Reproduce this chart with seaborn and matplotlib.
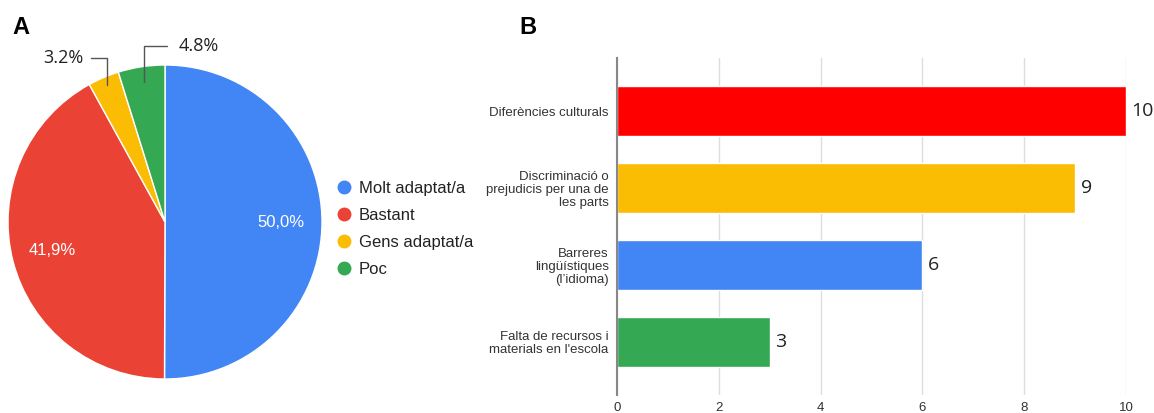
import matplotlib
matplotlib.use("Agg")
import matplotlib.pyplot as plt
from matplotlib.lines import Line2D
import numpy as np
import pandas as pd
import seaborn as sns

# panel A - how adapted
adapt_labels = ['Molt adaptat/a', 'Bastant', 'Gens adaptat/a', 'Poc']
adapt_pct = [50.0, 41.9, 3.2, 4.8]
adapt_colors = ['#4285F4', '#EA4335', '#FBBC04', '#34A853']

# panel B - barriers
barrier_labels = ['Diferències culturals',
                  'Discriminació o\nprejudicis per una de\nles parts',
                  'Barreres\nlingüístiques\n(l’idioma)',
                  "Falta de recursos i\nmaterials en l'escola"]
barrier_counts = [10, 9, 6, 3]
barrier_colors = ['#FF0000', '#FBBC04', '#4285F4', '#34A853']
x_ticks = [0, 2, 4, 6, 8, 10]

sns.set_theme(style='white')
plt.rcParams['font.family'] = ['Liberation Sans', 'DejaVu Sans']

W, H = 1154, 413
fig = plt.figure(figsize=(W / 100, H / 100), dpi=100)

"""
    Pie
"""
ax_pie = fig.add_axes([8 / W, 34 / H, 314 / W, 314 / H])
wedges, _ = ax_pie.pie(adapt_pct, colors=adapt_colors, startangle=90, counterclock=False,
                       wedgeprops=dict(linewidth=1, edgecolor='white'))
ax_pie.set_xlim(-1, 1)
ax_pie.set_ylim(-1, 1)

# small slices get a leader line: (radius of anchor, elbow y, horizontal run)
leaders = {2: (0.95, 1.045, -0.10), 3: (0.90, 1.12, 0.15)}
for i, (w, p) in enumerate(zip(wedges, adapt_pct)):
    ang = np.deg2rad((w.theta1 + w.theta2) / 2)
    if i in leaders:
        r, ey, run = leaders[i]
        ax0, ay0 = r * np.cos(ang), r * np.sin(ang)
        ax_pie.plot([ax0, ax0, ax0 + run], [ay0, ey, ey], color='#555555', lw=1, clip_on=False)
        ha = 'left' if run > 0 else 'right'
        tx = ax0 + run + (0.07 if run > 0 else -0.05)
        ax_pie.text(tx, ey, f'{p:.1f}%', ha=ha, va='center', fontsize=13,
                    family=['Open Sans', 'DejaVu Sans'], color='#222222')
    else:
        ax_pie.text(0.74 * np.cos(ang), 0.74 * np.sin(ang), f'{p:.1f}%'.replace('.', ','),
                    ha='center', va='center', fontsize=12, color='white')

handles = [Line2D([0], [0], marker='o', linestyle='', markersize=9, color=c) for c in adapt_colors]
leg = fig.legend(handles, adapt_labels, loc='center left', bbox_to_anchor=(338 / W, 1 - 229 / H),
                 frameon=False, fontsize=12, handlelength=0.7, handletextpad=0.55,
                 labelspacing=0.72, borderpad=0, borderaxespad=0)
for t in leg.get_texts():
    t.set_color('#222222')

"""
    Bars
"""
ax_bar = fig.add_axes([617 / W, 18 / H, 509 / W, 337 / H])
df = pd.DataFrame({'barrier': barrier_labels, 'count': barrier_counts})
sns.barplot(data=df, x='count', y='barrier', hue='barrier', palette=barrier_colors,
            orient='h', width=0.65, saturation=1, legend=False, ax=ax_bar)
ax_bar.set_xlim(0, 10)
ax_bar.set_ylim(3.69, -0.69)
ax_bar.set_xticks(x_ticks)
ax_bar.grid(axis='x', color='#dddddd', lw=1)
ax_bar.set_axisbelow(True)
for s in ['top', 'right', 'bottom']:
    ax_bar.spines[s].set_visible(False)
ax_bar.spines['left'].set_color('#888888')
ax_bar.spines['left'].set_linewidth(1.5)
ax_bar.set_xlabel('')
ax_bar.set_ylabel('')
ax_bar.tick_params(axis='y', length=0, pad=6, labelsize=9.5, labelcolor='#333333')
ax_bar.tick_params(axis='x', length=0, pad=5, labelsize=9.5, labelcolor='#333333')
for lbl in ax_bar.get_yticklabels():
    lbl.set_linespacing(1.1)

for c in ax_bar.containers:
    ax_bar.bar_label(c, padding=4, fontsize=14, family=['Open Sans', 'DejaVu Sans'], color='#222222')

fig.text(12 / W, 1 - 28 / H, 'A', fontsize=17, fontweight='bold', va='center', color='black')
fig.text(519 / W, 1 - 28 / H, 'B', fontsize=17, fontweight='bold', va='center', color='black')

fig.savefig('out.png', dpi=100)
